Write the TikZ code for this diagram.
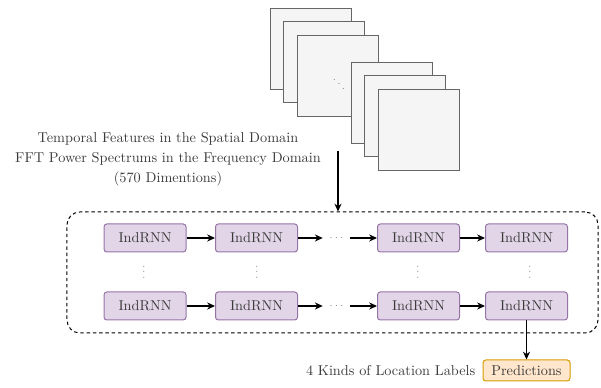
\documentclass[tikz,border=0pt]{standalone}
\usepackage{tikz}
\usetikzlibrary{arrows.meta,positioning}
\definecolor{cellfill}{HTML}{E1D5E7}
\definecolor{celldraw}{HTML}{9673A6}
\definecolor{predfill}{HTML}{FFE6CC}
\definecolor{preddraw}{HTML}{D79B00}
\definecolor{framefill}{HTML}{F5F5F5}
\definecolor{framedraw}{HTML}{666666}
\definecolor{txt}{HTML}{3A3A3A}

\begin{document}
\begin{tikzpicture}[x=0.7pt,y=-0.7pt,font=\fontsize{10}{14}\selectfont]
    \tikzset{%
      cell/.style={rectangle, rounded corners=2pt, draw=celldraw, fill=cellfill,
        line width=0.7pt, minimum width=57.4pt, minimum height=19.6pt,
        inner sep=0pt, text=txt},
      pred/.style={rectangle, rounded corners=2pt, draw=preddraw, fill=predfill,
        line width=0.7pt, minimum width=60.9pt, minimum height=14.7pt,
        inner sep=0pt, text=txt},
      frame/.style={rectangle, draw=framedraw, fill=framefill, line width=0.6pt,
        minimum size=56.7pt, inner sep=0pt},
      dashbox/.style={rectangle, rounded corners=9pt, draw, line width=0.7pt,
        dash pattern=on 2.4pt off 2pt, minimum width=371.7pt,
        minimum height=84.7pt},
      note/.style={text=txt, inner sep=0pt},
      hdots/.style={text=gray, inner sep=0pt, minimum width=18.9pt,
        font=\scriptsize},
      vdots/.style={text=gray, inner sep=0pt, rotate=90, font=\scriptsize},
      conn/.style={-{Stealth[length=5.5pt,width=5pt]}, line width=0.8pt},
    }
    \useasboundingbox (0,0) rectangle (601,388);

    % stacked input frames
    \node[frame] (F1) at (310.5,48.5) {};
    \node[frame] (F2) at (324,62) {};
    \node[frame] (F3) at (337.5,75.5) {};
    \node[text=gray, font=\scriptsize] (D3) at (339,80) {$\ddots$};
    \node[frame] (F4) at (391.5,102.5) {};
    \node[frame] (F5) at (405,116) {};
    \node[frame] (F6) at (418.5,129.5) {};

    \node[note, align=center] (feat) at (168,159)
      {Temporal Features in the Spatial Domain\\
       FFT Power Spectrums in the Frequency Domain\\
       (570 Dimentions)};

    % IndRNN block
    \node[dashbox] (rnn) at (332.5,272.5) {};
    \coordinate (src) at (338,151);
    \draw [conn] (src) -- (src |- rnn.north);

    \node[cell] (A1) at (145,238) {IndRNN};
    \node[cell] (A2) at (256.5,238) {IndRNN};
    \node[hdots] (A0) at (336.5,238) {$\cdots$};
    \node[cell] (A3) at (418.5,238) {IndRNN};
    \node[cell] (A4) at (526.5,238) {IndRNN};
    \draw [conn] (A1) -- (A2);
    \draw [conn] (A2) -- (A0);
    \draw [conn] (A0) -- (A3);
    \draw [conn] (A3) -- (A4);

    \node[vdots] (V1) at (144,272) {$\cdots$};
    \node[vdots] (V2) at (257,272) {$\cdots$};
    \node[vdots] (V3) at (418,272) {$\cdots$};
    \node[vdots] (V4) at (530,272) {$\cdots$};

    \node[cell] (B1) at (145,306) {IndRNN};
    \node[cell] (B2) at (256.5,306) {IndRNN};
    \node[hdots] (B0) at (336.5,306) {$\cdots$};
    \node[cell] (B3) at (418.5,306) {IndRNN};
    \node[cell] (B4) at (526.5,306) {IndRNN};
    \draw [conn] (B1) -- (B2);
    \draw [conn] (B2) -- (B0);
    \draw [conn] (B0) -- (B3);
    \draw [conn] (B3) -- (B4);

    % output
    \node[pred] (P) at (526.5,370.5) {Predictions};
    \node[note, left=4.9pt of P] (lbl) {4 Kinds of Location Labels};
    \draw [conn] (B4) -- (P);
\end{tikzpicture}
\end{document}
